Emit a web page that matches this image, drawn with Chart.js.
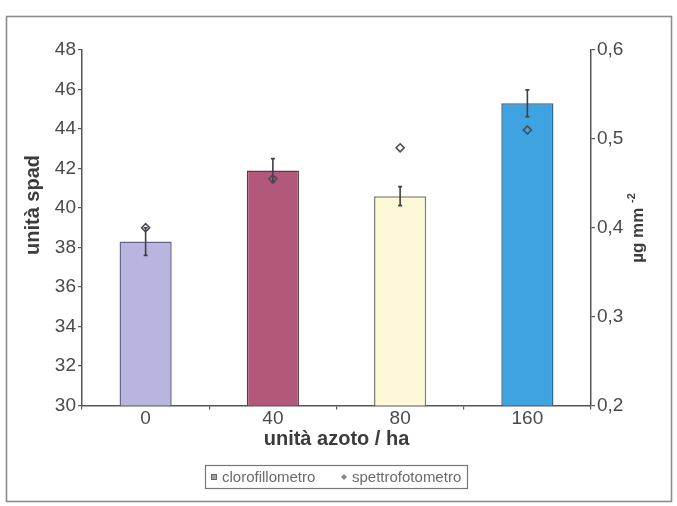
<!DOCTYPE html>
<html>
<head>
<meta charset="utf-8">
<script src="https://cdn.jsdelivr.net/npm/chart.js@4.4.1/dist/chart.umd.min.js"></script>
<style>
  html, body { margin: 0; padding: 0; background: #ffffff; }
  #wrap { width: 677px; height: 506px; }
</style>
</head>
<body>
<div id="wrap"><canvas id="c" width="677" height="506"></canvas></div>
<script>
// Nitrogen rate categories (unità azoto / ha)
const categories = ['0', '40', '80', '160'];
// SPAD readings (left axis) with their error margins
const spadValues = [38.3, 41.9, 40.6, 45.3];
const spadErrors = [0.7, 0.6, 0.48, 0.68];
// Spectrophotometer chlorophyll content, µg mm-2 (right axis)
const spectroValues = [0.40, 0.455, 0.49, 0.51];
// Axis ticks
const leftTicks = [30, 32, 34, 36, 38, 40, 42, 44, 46, 48];
const rightTicks = [0.2, 0.3, 0.4, 0.5, 0.6];
const rightTickLabels = ['0,2', '0,3', '0,4', '0,5', '0,6'];
// Legend entries
const legendLabels = ['clorofillometro', 'spettrofotometro'];

const FONT = '"Liberation Sans", Arial, sans-serif';
Chart.defaults.font.family = FONT;

const barColors = ['#b8b5df', '#b2597b', '#fcf8d8', '#3fa3e1'];
const barBorders = ['#66658c', '#5e3848', '#7a7a74', '#2f6790'];

const decorPlugin = {
  id: 'decor',
  beforeDraw(chart) {
    const ctx = chart.ctx;
    ctx.save();
    ctx.fillStyle = '#ffffff';
    ctx.fillRect(0, 0, chart.width, chart.height);
    ctx.strokeStyle = '#8c8c8c';
    ctx.lineWidth = 1.6;
    ctx.strokeRect(6.5, 16.5, 665, 485);
    ctx.restore();
  },
  afterDatasetDraw(chart, args) {
    if (args.index !== 0) return;
    const ctx = chart.ctx;
    const y = chart.scales.y;
    const meta = chart.getDatasetMeta(0);
    ctx.save();
    ctx.strokeStyle = '#3e3e46';
    ctx.lineWidth = 1.6;
    meta.data.forEach((bar, i) => {
      const x = bar.x;
      const yTop = y.getPixelForValue(spadValues[i] + spadErrors[i]);
      const yBot = y.getPixelForValue(spadValues[i] - spadErrors[i]);
      ctx.beginPath();
      ctx.moveTo(x, yTop); ctx.lineTo(x, yBot);
      ctx.moveTo(x - 2, yTop); ctx.lineTo(x + 2, yTop);
      ctx.moveTo(x - 2, yBot); ctx.lineTo(x + 2, yBot);
      ctx.stroke();
    });
    ctx.restore();
  },
  afterDraw(chart) {
    const ctx = chart.ctx;
    ctx.save();
    // left axis title
    ctx.fillStyle = '#3c3c3c';
    ctx.font = 'bold 20px ' + FONT;
    ctx.textAlign = 'center';
    ctx.textBaseline = 'middle';
    ctx.translate(33, 205);
    ctx.rotate(-Math.PI / 2);
    ctx.fillText('unità spad', 0, 0);
    ctx.restore();

    // right axis title with superscript
    ctx.save();
    ctx.fillStyle = '#3c3c3c';
    ctx.translate(638, 228);
    ctx.rotate(-Math.PI / 2);
    ctx.textBaseline = 'middle';
    ctx.font = 'bold 17px ' + FONT;
    const main = 'µg mm ';
    const wMain = ctx.measureText(main).width;
    ctx.font = 'bold 11px ' + FONT;
    const sup = '-2';
    const wSup = ctx.measureText(sup).width;
    const x0 = -(wMain + wSup) / 2;
    ctx.font = 'bold 17px ' + FONT;
    ctx.textAlign = 'left';
    ctx.fillText(main, x0, 0);
    ctx.font = 'bold 11px ' + FONT;
    ctx.fillText(sup, x0 + wMain, -6);
    ctx.restore();

    // legend box
    ctx.save();
    ctx.strokeStyle = '#777777';
    ctx.lineWidth = 1.2;
    ctx.strokeRect(205.5, 465.5, 262, 23);
    ctx.font = '15px ' + FONT;
    ctx.fillStyle = '#6a6a6a';
    ctx.textBaseline = 'middle';
    ctx.textAlign = 'left';
    // square marker
    ctx.fillStyle = '#a0a0a8';
    ctx.fillRect(211, 474, 6, 6);
    ctx.strokeStyle = '#666';
    ctx.lineWidth = 1;
    ctx.strokeRect(211.5, 474.5, 5, 5);
    ctx.fillStyle = '#6a6a6a';
    ctx.fillText(legendLabels[0], 222, 477.5);
    // diamond marker
    ctx.beginPath();
    ctx.moveTo(344, 474); ctx.lineTo(347, 477); ctx.lineTo(344, 480); ctx.lineTo(341, 477);
    ctx.closePath();
    ctx.fillStyle = '#888';
    ctx.fill();
    ctx.fillStyle = '#6a6a6a';
    ctx.fillText(legendLabels[1], 352, 477.5);
    ctx.restore();
  }
};

new Chart(document.getElementById('c'), {
  data: {
    labels: categories,
    datasets: [
      {
        type: 'bar',
        label: legendLabels[0],
        data: spadValues,
        yAxisID: 'y',
        backgroundColor: barColors,
        borderColor: barBorders,
        borderWidth: 1.5,
        barPercentage: 0.41,
        categoryPercentage: 1,
        order: 2
      },
      {
        type: 'line',
        label: legendLabels[1],
        data: spectroValues,
        yAxisID: 'y2',
        showLine: false,
        pointStyle: 'rectRot',
        pointRadius: 4,
        pointBorderWidth: 1.6,
        pointBorderColor: '#4a4a58',
        pointBackgroundColor: 'rgba(255,255,255,0)',
        order: 1
      }
    ]
  },
  options: {
    responsive: false,
    animation: false,
    devicePixelRatio: 1,
    layout: { padding: { top: 50, left: 0, right: 0, bottom: 40.5 } },
    plugins: { legend: { display: false }, tooltip: { enabled: false } },
    scales: {
      x: {
        type: 'category',
        offset: true,
        grid: { offset: true, drawOnChartArea: false, tickLength: 4, color: '#555', lineWidth: 1.2 },
        border: { color: '#555', width: 1.5 },
        ticks: { font: { size: 19, lineHeight: 1 }, color: '#4a4a4a', padding: 0 },
        title: {
          display: true,
          text: 'unità azoto / ha',
          font: { size: 20, weight: 'bold' },
          color: '#3c3c3c',
          padding: { top: 0, bottom: 14.5 }
        },
        afterFit(s) { s.height = 60; }
      },
      y: {
        position: 'left',
        min: 30,
        max: 48,
        afterBuildTicks(s) { s.ticks = leftTicks.map(v => ({ value: v })); },
        grid: { drawOnChartArea: false, tickLength: 4, color: '#555', lineWidth: 1.2 },
        border: { color: '#555', width: 1.5 },
        ticks: { font: { size: 19 }, color: '#4a4a4a', padding: 2 },
        afterFit(s) { s.width = 82; }
      },
      y2: {
        position: 'right',
        min: 0.2,
        max: 0.6,
        afterBuildTicks(s) { s.ticks = rightTicks.map(v => ({ value: v })); },
        grid: { drawOnChartArea: false, tickLength: 4, color: '#555', lineWidth: 1.2 },
        border: { color: '#555', width: 1.5 },
        ticks: {
          font: { size: 19 },
          color: '#4a4a4a',
          padding: 2,
          callback: (v, i) => rightTickLabels[i]
        },
        afterFit(s) { s.width = 86; }
      }
    }
  },
  plugins: [decorPlugin]
});
</script>
</body>
</html>
